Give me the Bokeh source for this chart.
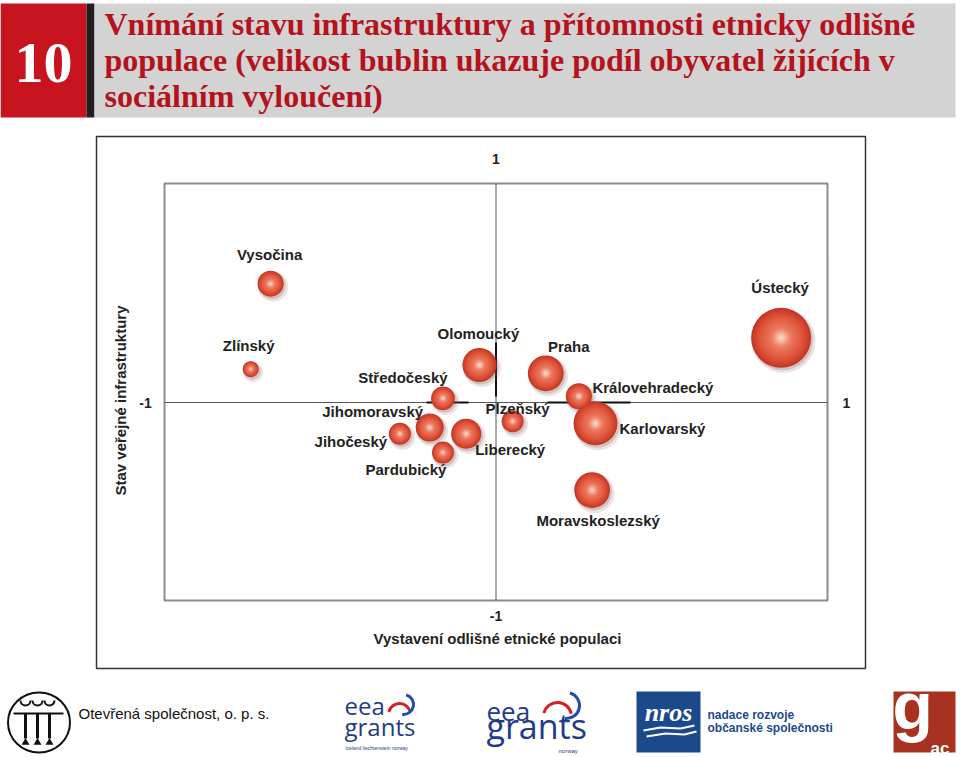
import numpy as np
from bokeh.plotting import figure
from bokeh.models import Range1d, ColumnDataSource
from bokeh.core.properties import value
from bokeh.embed import file_html
from bokeh.resources import INLINE

# ---------------- data ----------------
regions = ["Vysočina", "Zlínský", "Olomoucký", "Středočeský", "Praha",
           "Královehradecký", "Ústecký", "Plzeňský", "Karlovarský",
           "Moravskoslezský", "Jihomoravský", "Jihočeský", "Liberecký",
           "Pardubický"]
# x: Vystavení odlišné etnické populaci (-1 .. 1)
exposure = [-0.68, -0.74, -0.05, -0.16, 0.15, 0.25, 0.86, 0.05, 0.30,
            0.29, -0.20, -0.29, -0.09, -0.16]
# y: Stav veřejné infrastruktury (-1 .. 1)
infrastructure = [0.57, 0.16, 0.18, 0.02, 0.14, 0.03, 0.31, -0.09, -0.10,
                  -0.42, -0.12, -0.15, -0.15, -0.24]
# bubble size: podíl obyvatel žijících v sociálním vyloučení (estimated)
excluded_share = [1.7, 0.64, 2.9, 1.4, 3.2, 1.7, 9.0, 1.2, 4.8, 3.2,
                  1.96, 1.2, 2.25, 1.2]

x_tick_labels = ["-1", "1"]
y_tick_labels = ["-1", "1"]
x_title = "Vystavení odlišné etnické populaci"
y_title = "Stav veřejné infrastruktury"
chart_number = "10"
title_lines = ["Vnímání stavu infrastruktury a přítomnosti etnicky odlišné",
               "populace (velikost bublin ukazuje podíl obyvatel žijících v",
               "sociálním vyloučení)"]

# ---------------- layout helpers (reference pixels -> data) ----------------
W, H = 960, 757
X0, Y0, SX, SY = 495.5, 402.0, 331.5, 208.5


def dx(X):
    return (X - X0) / SX


def dy(Y):
    return (Y0 - Y) / SY


p = figure(width=W, height=H, x_range=Range1d(dx(0), dx(W)),
           y_range=Range1d(dy(H), dy(0)), output_backend="svg",
           toolbar_location=None, min_border=0,
           x_axis_location=None, y_axis_location=None)
p.grid.visible = False
p.outline_line_color = None
p.background_fill_color = "white"
p.border_fill_color = "white"

SANS = value("Liberation Sans")
SERIF = value("Liberation Serif")

# ---------------- header ----------------
p.quad(left=[dx(0)], right=[dx(86)], top=[dy(3)], bottom=[dy(117)],
       fill_color="#c8141e", line_color=None)
p.quad(left=[dx(86)], right=[dx(94)], top=[dy(3)], bottom=[dy(117)],
       fill_color="#231f20", line_color=None)
p.quad(left=[dx(94)], right=[dx(955)], top=[dy(3)], bottom=[dy(117)],
       fill_color="#d3d3d3", line_color=None)
p.text(x=[dx(43)], y=[dy(62)], text=[chart_number], text_font=SERIF,
       text_font_style="bold", text_font_size="58px", text_color="white",
       text_align="center", text_baseline="middle")
p.text(x=[dx(104)] * 3, y=[dy(23), dy(59), dy(95)], text=title_lines,
       text_font=SERIF, text_font_style="bold", text_font_size="32px",
       text_color="#b5121b", text_align="left", text_baseline="middle")

# ---------------- chart frames ----------------
p.quad(left=[dx(96)], right=[dx(865)], top=[dy(136)], bottom=[dy(668)],
       fill_color=None, line_color="#333333", line_width=1.5)
p.quad(left=[dx(164)], right=[dx(827)], top=[dy(183)], bottom=[dy(600)],
       fill_color=None, line_color="#8c8c8c", line_width=2)
# quadrant lines through (0, 0)
p.segment(x0=[0, dx(164)], y0=[dy(183), 0], x1=[0, dx(827)], y1=[dy(600), 0],
          line_color="#555555", line_width=1)
# darker central cross pieces
p.segment(x0=[dx(426), dx(547), 0], y0=[0, 0, dy(342)],
          x1=[dx(468), dx(630), 0], y1=[0, 0, dy(396)],
          line_color="#111111", line_width=2)

# tick labels
p.text(x=[dx(145), dx(846)], y=[0, 0], text=x_tick_labels, text_font=SANS,
       text_font_style="bold", text_font_size="14px", text_color="#222222",
       text_align="center", text_baseline="middle")
p.text(x=[0, 0], y=[dy(615), dy(158)], text=y_tick_labels, text_font=SANS,
       text_font_style="bold", text_font_size="14px", text_color="#222222",
       text_align="center", text_baseline="middle")
# axis titles
p.text(x=[dx(497)], y=[dy(638)], text=[x_title], text_font=SANS,
       text_font_style="bold", text_font_size="15px", text_color="#222222",
       text_align="center", text_baseline="middle")
p.text(x=[dx(120)], y=[dy(400)], text=[y_title], text_font=SANS,
       text_font_style="bold", text_font_size="15px", text_color="#222222",
       text_align="center", text_baseline="middle", angle=np.pi / 2)

# ---------------- bubbles ----------------
share = np.array(excluded_share)
diam = 20.0 * np.sqrt(share)          # pixel diameter, area ~ share
xs = np.array(exposure)
ys = np.array(infrastructure)

# soft shadow
p.scatter(x=xs + 2.5 / SX, y=ys - 3.0 / SY, size=diam + 4,
          fill_color="#8a6a66", fill_alpha=0.18, line_color=None)
p.scatter(x=xs + 1.5 / SX, y=ys - 2.0 / SY, size=diam + 1,
          fill_color="#7a4a44", fill_alpha=0.22, line_color=None)

stops = [(0.0, (252, 238, 230)), (0.12, (246, 192, 174)),
         (0.35, (236, 122, 96)), (0.7, (225, 88, 62)),
         (0.9, (210, 67, 45)), (1.0, (194, 55, 38))]


def shade(t):
    for (t0, c0), (t1, c1) in zip(stops[:-1], stops[1:]):
        if t <= t1:
            u = (t - t0) / (t1 - t0)
            return "#%02x%02x%02x" % tuple(int(round(a + (b - a) * u))
                                           for a, b in zip(c0, c1))
    return "#%02x%02x%02x" % stops[-1][1]


N = 18
for k in range(N):
    f = 1.0 - k / N
    p.scatter(x=xs, y=ys, size=diam * f, fill_color=shade(f),
              line_color=None)

# region labels (offsets in screen px, + = right / down)
lab_dx = [-1, -2, -1, -40, 23, 74, -1, 5, 67, 6, -57, -49, 44, -37]
lab_dy = [-29, -24, -31, -21, -27, -9, -50, -13, 5, 30, -16, 8, 16, 17]
src = ColumnDataSource(dict(x=xs, y=ys, name=regions, ox=lab_dx,
                            oy=lab_dy))
p.text(x="x", y="y", text="name", x_offset="ox", y_offset="oy", source=src,
       text_font=SANS, text_font_style="bold", text_font_size="15px",
       text_color="#222222", text_align="center", text_baseline="middle")

# ---------------- footer logos ----------------
# Otevřená společnost emblem
p.ellipse(x=[dx(38.5)], y=[dy(722)], width=[62], height=[60],
          width_units="screen", height_units="screen", fill_color=None,
          line_color="#111111", line_width=2)
p.segment(x0=[dx(13)], y0=[dy(713)], x1=[dx(63)], y1=[dy(713)],
          line_color="#111111", line_width=2)
p.segment(x0=[dx(25), dx(37), dx(49)], y0=[dy(713)] * 3,
          x1=[dx(25), dx(37), dx(49)], y1=[dy(738)] * 3,
          line_color="#111111", line_width=3)
p.arc(x=[dx(25), dx(37), dx(49)], y=[dy(700)] * 3, radius=5,
      radius_units="screen", start_angle=np.pi, end_angle=2 * np.pi,
      line_color="#111111", line_width=2)
p.scatter(x=[dx(25), dx(37), dx(49)], y=[dy(742)] * 3, marker="triangle",
          size=8, fill_color="#111111", line_color=None)
p.text(x=[dx(78)], y=[dy(713)], text=["Otevřená společnost, o. p. s."],
       text_font=SANS, text_font_size="15px",
       text_color="#111111", text_align="left", text_baseline="middle")

# EEA grants logos
NAVY = "#1f3c88"
p.text(x=[dx(344), dx(344)], y=[dy(705), dy(726)], text=["eea", "grants"],
       text_font=value("Open Sans"), text_font_size=value("24px"),
       text_color=NAVY, text_align="left", text_baseline="middle")
p.text(x=[dx(345)], y=[dy(747)], text=["iceland liechtenstein norway"],
       text_font=SANS, text_font_size="5px", text_color=NAVY,
       text_align="left", text_baseline="middle")
p.text(x=[dx(486)], y=[dy(710)], text=["eea"],
       text_font=value("Open Sans"), text_font_size=value("26px"),
       text_color=NAVY, text_align="left", text_baseline="middle")
p.text(x=[dx(486)], y=[dy(725)], text=["grants"],
       text_font=value("Open Sans"), text_font_size=value("34px"),
       text_color=NAVY, text_align="left", text_baseline="middle")
p.text(x=[dx(558)], y=[dy(750)], text=["norway"],
       text_font=SANS, text_font_size="6px", text_color=NAVY,
       text_align="left", text_baseline="middle")
p.arc(x=[dx(399), dx(557)], y=[dy(714), dy(716)], radius=[11, 14],
      radius_units="screen", start_angle=0.2, end_angle=2.9,
      line_color="#d42027", line_width=3)
p.arc(x=[dx(403), dx(566)], y=[dy(704), dy(705)], radius=[10, 13],
      radius_units="screen", start_angle=-1.7, end_angle=1.3,
      line_color="#1f4fa8", line_width=3)

# NROS
NROS = "#1b4a8c"
p.quad(left=[dx(636)], right=[dx(700)], top=[dy(691)], bottom=[dy(752)],
       fill_color=NROS, line_color=None)
p.text(x=[dx(668)], y=[dy(712)], text=["nros"], text_font=SERIF,
       text_font_style="bold italic", text_font_size="26px",
       text_color="white", text_align="center", text_baseline="middle")
p.line(x=[dx(643), dx(660), dx(680), dx(694)],
       y=[dy(730), dy(727), dy(728), dy(725)], line_color="white",
       line_width=2)
p.line(x=[dx(646), dx(665), dx(684), dx(696)],
       y=[dy(736), dy(733), dy(734), dy(731)], line_color="white",
       line_width=2)
p.text(x=[dx(707), dx(707)], y=[dy(714), dy(727)],
       text=["nadace rozvoje", "občanské společnosti"], text_font=SANS,
       text_font_style="bold", text_font_size="12px", text_color=NROS,
       text_align="left", text_baseline="middle")

# gac
p.quad(left=[dx(893)], right=[dx(955)], top=[dy(691)], bottom=[dy(752)],
       fill_color="#a7321f", line_color=None)
p.text(x=[dx(892)], y=[dy(705)], text=["g"], text_font=SANS,
       text_font_style="bold", text_font_size="66px", text_color="white",
       text_align="left", text_baseline="middle")
p.text(x=[dx(930)], y=[dy(748)], text=["ac"], text_font=SANS,
       text_font_style="bold", text_font_size="17px", text_color="white",
       text_align="left", text_baseline="middle")

open("out.html", "w").write(file_html(p, INLINE))
